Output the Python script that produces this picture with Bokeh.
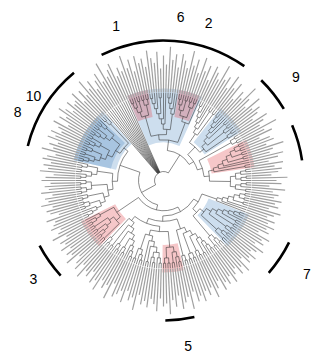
import numpy as np
from bokeh.plotting import figure
from bokeh.models import Range1d
from bokeh.core.properties import value
from bokeh.embed import file_html
from bokeh.resources import INLINE

# ---------------- data ----------------
# tree topology (Newick, unnamed leaves "x"), leaves run anticlockwise
A = "(((x,x),(x,(x,x))),((x,(x,x)),(x,(x,x))))"
B = "((x,x),(x,(x,((x,x),((x,x),((x,x),(x,x)))))))"
C = "((x,x),(x,x))"
D = "((x,(x,x)),((x,(x,x)),((x,x),(x,(x,(x,(x,x)))))))"
E = "((x,x),((x,x),(x,(x,(x,(x,x))))))"
P = "(((x,x),(x,x)),((x,x),(x,(x,x))))"
M = "((x,(x,(x,(x,x)))),(x,(x,((x,x),(x,(x,(x,x)))))))"
F = "((x," + P + "),(" + M + "," + P + "))"
TR = "(((" + A + "," + B + ")," + C + "),(" + D + "," + E + "))"
TRF = "(" + TR + "," + F + ")"
D2a = "((x,(x,x)),((x,x),(x,(x,x))))"
D2b = "(((x,x),(x,(x,x))),((x,(x,x)),((x,x),(x,(x,x)))))"
H = "((x,(x,x)),(" + D2a + "," + D2b + "))"
I1 = "((x,(x,x)),((x,x),(x,(x,x))))"
I2a = "((x,(x,x)),((x,x),(x,x)))"
I2b = "((x,(x,x)),(((x,x),(x,x)),(x,(x,(x,x)))))"
I = "(" + I1 + ",(" + I2a + "," + I2b + "))"
J = "((x,(x,(x,x))),(((x,x),((x,x),(x,(x,x)))),(x,x)))"
K1 = "((x,(x,x)),((x,x),((x,(x,x)),((x,(x,x)),(x,(x,(x,x)))))))"
K2 = "(((x,x),(x,(x,x))),(x,((x,x),((x,(x,x)),(x,(x,x))))))"
K3 = "((x,(x,x)),(((x,x),(x,x)),((x,(x,x)),((x,x),(x,(x,(x,x)))))))"
K = "((" + K1 + ",(" + K2 + "," + P + "))," + K3 + ")"
L1 = "((x,x),(x,(x,x)))"
LB = "(((x,x),(x,(x,x))),((x,(x,x)),((x,x),((x,x),(x,(x,(x,x)))))))"
L2 = "(x,(x,(x,((x,x),((x,x),(x,x))))))"
L = "((" + L1 + "," + LB + ")," + L2 + ")"
REST = "((" + H + "," + I + "),(" + J + ",(" + K + "," + L + ")))"
TREE = "(" + TRF + "," + "x," * 12 + REST + ")"

# bar values, one per leaf (anticlockwise)
bar_values = [
    28, 22, 34, 18, 30, 25, 36, 20, 27, 31,
    24, 33, 19, 29, 35, 22, 26, 38, 21, 30,
    27, 17, 32, 25, 40, 23, 29, 35, 20, 28,
    33, 26, 38, 22, 30, 42, 25, 31, 19, 36,
    28, 40, 24, 35, 30, 44, 27, 33, 38, 22,
    36, 29, 42, 25, 38, 31, 45, 27, 34, 40,
    26, 39, 33, 46, 28, 37, 24, 41, 30, 35,
    43, 27, 36, 32, 40, 25, 38, 30, 44, 29,
    34, 26, 41, 36, 30, 47, 28, 39, 33, 25,
    37, 30, 42, 27, 35, 24, 38, 31, 29, 36,
    26, 33, 39, 28, 34, 22, 37, 30, 25, 35,
    29, 36, 24, 32, 27, 38, 23, 31, 35, 26,
    33, 28, 36, 22, 30, 34, 25, 31, 27, 35,
    24, 32, 29, 37, 26, 33, 30, 22, 36, 28,
    31, 35, 26, 30, 38, 24, 33, 29, 36, 27,
    34, 30, 39, 25, 32, 37, 28, 41, 31, 35,
    27, 38, 33, 42, 29, 36, 31, 44, 26, 39,
    35, 30, 41, 28, 37, 33, 45, 29, 38, 34,
    40, 31, 36, 43, 30, 38, 35, 46, 32, 39,
    28, 42, 36, 31, 44, 27, 38, 33, 40, 30,
    36, 29, 41, 33, 26, 38, 31, 35, 28, 37,
    30, 25, 34, 28, 36, 22, 31, 27, 33, 24,
    29, 35, 23, 31, 27, 34, 20, 30, 26, 33,
    25, 31, 22, 28, 34, 21, 30, 26, 32, 24,
]

# highlighted clades: first leaf, last leaf, group
hl_first = [11, 27, 49, 50, 72, 93, 96, 143, 185, 215]
hl_last = [22, 39, 80, 58, 80, 116, 116, 155, 193, 230]
hl_group = ["red", "blue", "blue", "red", "red", "blue", "blue", "red", "red", "blue"]

# cluster arcs: first leaf, last leaf
arc_first = [42, 92, 26, 11, 218, 186, 144]
arc_last = [82, 115, 35, 20, 227, 193, 153]
cluster_labels = ["1", "6", "2", "9", "7", "5", "3", "10", "8"]

# ---------------- layout / style ----------------
START_DEG = -7.5
R_TIP = 88.0
STEP = 5.25
ROOT_R = 9.0
ARC_R = 140.0
label_deg = [107, 84, 74, 38, -33, -81.5, 217, 147, 155]
label_r = [162, 164, 164, 168, 171, 167, 163, 155, 161]
group_color = {"red": "#e0474c", "blue": "#3d7ebf"}
group_alpha = {"red": 0.30, "blue": 0.26}


def parse(s):
    pos = [0]

    def node():
        if s[pos[0]] == "x":
            pos[0] += 1
            return []
        pos[0] += 1
        kids = [node()]
        while s[pos[0]] == ",":
            pos[0] += 1
            kids.append(node())
        pos[0] += 1
        return kids

    return node()


counter = [0]


def build(n):
    if not n:
        i = counter[0]
        counter[0] += 1
        return dict(kids=[], h=0, lo=i, hi=i, pos=float(i))
    kids = [build(k) for k in n]
    return dict(kids=kids, h=1 + max(k["h"] for k in kids), lo=kids[0]["lo"],
                hi=kids[-1]["hi"], pos=(kids[0]["pos"] + kids[-1]["pos"]) / 2)


root = build(parse(TREE))
N = counter[0]
assert N == len(bar_values), (N, len(bar_values))
dtheta = 2 * np.pi / N


def ang(p):
    return np.radians(START_DEG) + p * dtheta


def rad(nd, is_root=False):
    return ROOT_R if is_root else R_TIP - STEP * nd["h"]


seg_x0, seg_y0, seg_x1, seg_y1 = [], [], [], []
arc_r, arc_s, arc_e = [], [], []
all_nodes = []


def walk(nd, is_root=False):
    all_nodes.append(nd)
    if not nd["kids"]:
        return
    r = rad(nd, is_root)
    arc_r.append(r)
    arc_s.append(ang(nd["kids"][0]["pos"]))
    arc_e.append(ang(nd["kids"][-1]["pos"]))
    for k in nd["kids"]:
        t = ang(k["pos"])
        rk = rad(k)
        seg_x0.append(r * np.cos(t)); seg_y0.append(r * np.sin(t))
        seg_x1.append(rk * np.cos(t)); seg_y1.append(rk * np.sin(t))
        walk(k)


walk(root, True)


def mrca(a, b):
    best = root
    for nd in all_nodes:
        if nd["kids"] and nd["lo"] <= a and nd["hi"] >= b and nd["h"] < best["h"]:
            best = nd
    return best


p = figure(width=323, height=354, x_range=Range1d(-163, 160), y_range=Range1d(-174, 180),
           output_backend="svg", toolbar_location=None, min_border=0,
           x_axis_type=None, y_axis_type=None)
p.outline_line_color = None
p.background_fill_color = "white"
p.border_fill_color = "white"

# highlights
for a, b, g in zip(hl_first, hl_last, hl_group):
    nd = mrca(a, b)
    p.annular_wedge(x=0, y=0, inner_radius=rad(nd) - STEP / 2, outer_radius=R_TIP + 4,
                    start_angle=ang(a - 0.5), end_angle=ang(b + 0.5),
                    fill_color=group_color[g], fill_alpha=group_alpha[g], line_color=None)

# bars
th = ang(np.arange(N))
bv = np.array(bar_values, dtype=float)
p.segment(x0=(R_TIP + 0.5) * np.cos(th), y0=(R_TIP + 0.5) * np.sin(th),
          x1=(R_TIP + bv) * np.cos(th), y1=(R_TIP + bv) * np.sin(th),
          line_color="#a0a0a0", line_width=1.2)

# tree
p.segment(x0=seg_x0, y0=seg_y0, x1=seg_x1, y1=seg_y1, line_color="#2a2a2a", line_width=0.55)
p.arc(x=0, y=0, radius=arc_r, start_angle=arc_s, end_angle=arc_e,
      line_color="#2a2a2a", line_width=0.55)

# cluster arcs
p.arc(x=0, y=0, radius=ARC_R, start_angle=[ang(a - 0.5) for a in arc_first],
      end_angle=[ang(b + 0.5) for b in arc_last], line_color="black", line_width=2.6)

lt = np.radians(label_deg)
lr = np.array(label_r, dtype=float)
p.text(x=lr * np.cos(lt), y=lr * np.sin(lt), text=cluster_labels, text_align="center",
       text_baseline="middle", text_font=value("Liberation Sans"), text_font_size="14px",
       text_color="black")

open("out.html", "w").write(file_html(p, INLINE))
